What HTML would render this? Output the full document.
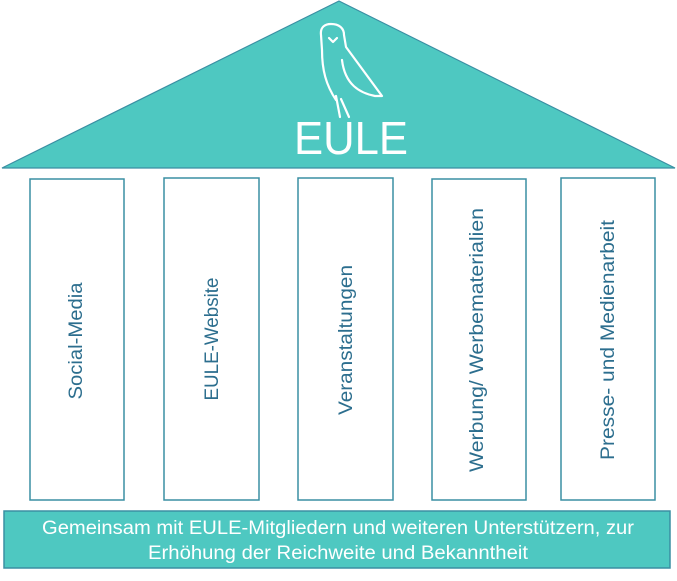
<!DOCTYPE html>
<html><head><meta charset="utf-8"><style>html,body{margin:0;padding:0;background:#fff}svg{display:block}</style></head>
<body>
<svg width="677" height="581" viewBox="0 0 677 581" xmlns="http://www.w3.org/2000/svg" font-family="'Liberation Sans', sans-serif">
<polygon points="339,1 2,168 675,168" fill="#4ec8c1" stroke="#3a8fa3" stroke-width="1.2"/>
<g fill="none" stroke="#fff" stroke-width="2.2" stroke-linecap="round" stroke-linejoin="round">
<path d="M336,100 C326,85 322,70 322,50 L321,35 C320,27 325,24 331,24 C339,24 344,28 344,35 L346,47 L382,96 L375,96 C360,93 345,85 342,60"/>
<path d="M329,38 L333,42 L337,38"/>
<path d="M336,96 L340,117 M341,99 L349,117"/>
</g>
<text x="351" y="154" text-anchor="middle" font-size="46" fill="#fff" textLength="114" lengthAdjust="spacingAndGlyphs">EULE</text>
<g fill="#fff" stroke="#3a8fa3" stroke-width="1.5">
<rect x="30" y="179" width="94" height="321"/>
<rect x="164" y="178" width="95" height="322"/>
<rect x="298" y="178" width="95" height="322"/>
<rect x="432" y="179" width="94" height="321"/>
<rect x="561" y="178" width="94" height="322"/>
</g>
<g font-size="19" fill="#2c6e8e" text-anchor="middle">
<text transform="translate(82,341) rotate(-90)" textLength="117" lengthAdjust="spacingAndGlyphs">Social-Media</text>
<text transform="translate(218,339) rotate(-90)" textLength="123" lengthAdjust="spacingAndGlyphs">EULE-Website</text>
<text transform="translate(352,340) rotate(-90)" textLength="150" lengthAdjust="spacingAndGlyphs">Veranstaltungen</text>
<text transform="translate(483,340) rotate(-90)" textLength="264" lengthAdjust="spacingAndGlyphs">Werbung/ Werbematerialien</text>
<text transform="translate(614,340) rotate(-90)" textLength="240" lengthAdjust="spacingAndGlyphs">Presse- und Medienarbeit</text>
</g>
<rect x="4" y="511" width="666" height="57" fill="#4ec8c1" stroke="#3a8fa3" stroke-width="1.5"/>
<g font-size="19" fill="#fff" text-anchor="middle">
<text x="338" y="534" textLength="592" lengthAdjust="spacingAndGlyphs">Gemeinsam mit EULE-Mitgliedern und weiteren Unterstützern, zur</text>
<text x="338" y="559" textLength="380" lengthAdjust="spacingAndGlyphs">Erhöhung der Reichweite und Bekanntheit</text>
</g>
</svg>
</body></html>
